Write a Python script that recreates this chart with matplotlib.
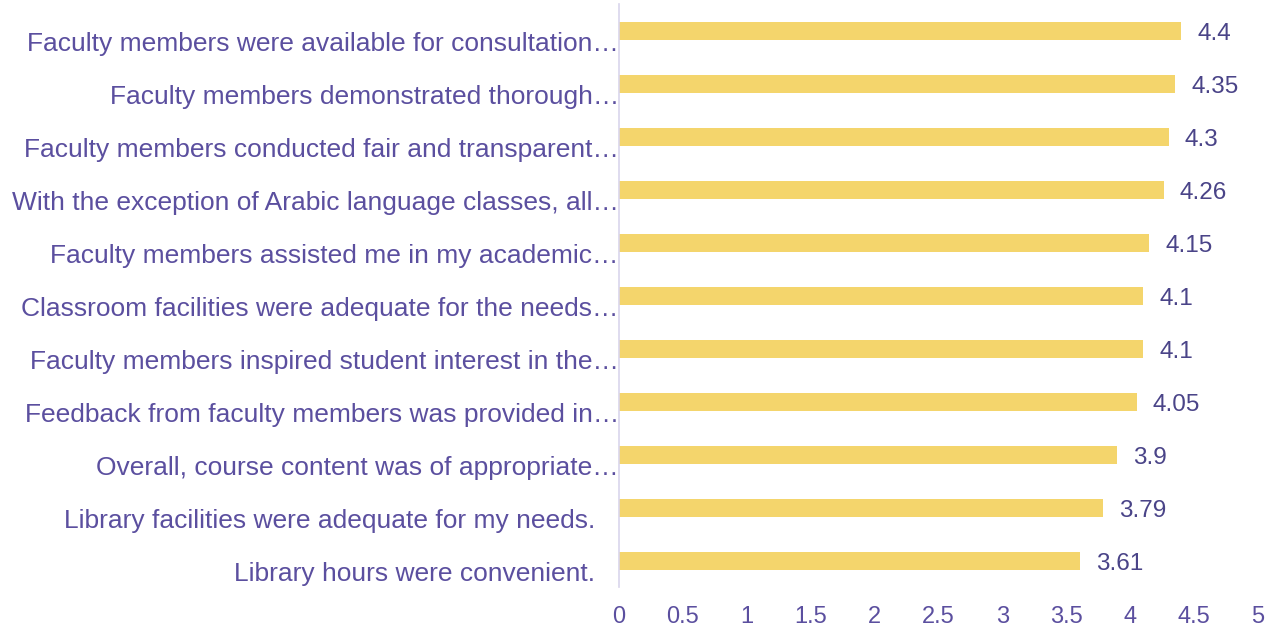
import matplotlib
matplotlib.use("Agg")
import matplotlib.pyplot as plt
import matplotlib.transforms as mtransforms

# Survey items (top to bottom) and mean scores
labels = [
    "Faculty members were available for consultation…",
    "Faculty members demonstrated thorough…",
    "Faculty members conducted fair and transparent…",
    "With the exception of Arabic language classes, all…",
    "Faculty members assisted me in my academic…",
    "Classroom facilities were adequate for the needs…",
    "Faculty members inspired student interest in the…",
    "Feedback from faculty members was provided in…",
    "Overall, course content was of appropriate…",
    "Library facilities were adequate for my needs.",
    "Library hours were convenient.",
]
scores = [4.4, 4.35, 4.3, 4.26, 4.15, 4.1, 4.1, 4.05, 3.9, 3.79, 3.61]
xticks = [0, 0.5, 1, 1.5, 2, 2.5, 3, 3.5, 4, 4.5, 5]

BAR = "#F4D56C"
LABEL = "#5B4F9F"
VALUE = "#4A4488"

plt.rcParams["font.family"] = ["Liberation Sans", "DejaVu Sans"]

fig = plt.figure(figsize=(12.76, 6.31), dpi=100)
ax = fig.add_axes([0.485, 0.069, 0.501, 0.924])

ypos = list(range(len(labels)))
ax.barh(ypos, scores, height=0.34, color=BAR)
ax.set_ylim(len(labels) - 0.5, -0.5)
ax.set_xlim(0, 5)

ax.set_xticks(xticks)
ax.set_xticklabels([f"{t:g}" for t in xticks], fontsize=17, color=LABEL)
ax.tick_params(axis="x", length=0, pad=13.5)
ax.set_yticks([])

for s in ["top", "right", "bottom"]:
    ax.spines[s].set_visible(False)
ax.spines["left"].set_color("#D9D5EC")
ax.spines["left"].set_linewidth(1.2)

# category labels sit a bit below the bar centre, like the original
trans = mtransforms.blended_transform_factory(ax.transAxes, ax.transData)
for i, lab in enumerate(labels):
    dx = 0 if lab.endswith("…") else -24
    off = mtransforms.ScaledTranslation(dx / 100, -13 / 100, fig.dpi_scale_trans)
    ax.text(0, i, lab, transform=trans + off, ha="right", va="center",
            fontsize=19, color=LABEL)

# value labels
for i, v in enumerate(scores):
    ax.annotate(f"{v:g}", (v, i), xytext=(11.5, -2), textcoords="offset points",
                ha="left", va="center", fontsize=17.5, color=VALUE)

fig.savefig("out.png", dpi=100)
